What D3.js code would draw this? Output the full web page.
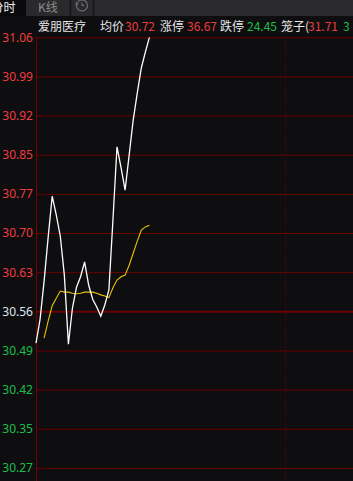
<!DOCTYPE html>
<html>
<head>
<meta charset="utf-8">
<script src="https://cdn.jsdelivr.net/npm/d3@7"></script>
<style>
  html, body { margin: 0; padding: 0; background: #0e0e11; overflow: hidden; }
  svg { display: block; font-family: "Noto Sans CJK SC", "Noto Sans", sans-serif; }
</style>
</head>
<body>
<svg id="chart"></svg>
<script>
// minute prices (index = minutes from the open)
let prices = [30.502, 30.545, 30.615, 30.695, 30.770, 30.736, 30.697, 30.626, 30.500, 30.566,
              30.604, 30.623, 30.650, 30.608, 30.582, 30.568, 30.551, 30.572, 30.599, 30.727,
              30.860, 30.822, 30.781, 30.845, 30.909, 30.958, 31.004, 31.033, 31.060];
// average price line, starts two minutes later
let avgPrices = [null, null, 30.511, 30.542, 30.570, 30.584, 30.597, 30.595, 30.595, 30.593,
                 30.592, 30.593, 30.595, 30.595, 30.595, 30.593, 30.590, 30.588, 30.585, 30.603,
                 30.617, 30.623, 30.626, 30.644, 30.666, 30.688, 30.708, 30.714, 30.717];

let prevClose = 30.56;
let tickLabels = ["31.06", "30.99", "30.92", "30.85", "30.77", "30.70", "30.63",
                  "30.56", "30.49", "30.42", "30.35", "30.27"];

// header quotes
let headerItems = [
    {text: "爱朋医疗", color: "#e6e6e6", x: 38},
    {text: "均价", color: "#e6e6e6", x: 100},
    {text: "30.72", color: "#f03c3c", x: 125},
    {text: "涨停", color: "#e6e6e6", x: 160},
    {text: "36.67", color: "#f03c3c", x: 187},
    {text: "跌停", color: "#e6e6e6", x: 220},
    {text: "24.45", color: "#1dbf4a", x: 247},
    {text: "笼子(", color: "#e6e6e6", x: 281},
    {text: "31.71", color: "#f03c3c", x: 308},
    {text: "3", color: "#1dbf4a", x: 343}
];

let width = 353;
let height = 481;
let chartLeft = 36;
let chartTop = 37.3;
let step = 4.05;       // px per minute
let pxPerYuan = 548;

let svg = d3.select("#chart").attr("width", width).attr("height", height);

let xScale = d3.scaleLinear().domain([0, 240]).range([chartLeft, chartLeft + 240 * step]);
let yScale = d3.scaleLinear()
    .domain([prevClose - 0.5, prevClose + 0.5])
    .range([chartTop + pxPerYuan, chartTop]);

let tickValues = tickLabels.map((t, i) => prevClose + (7 - i) * 0.5 / 7);

svg.append("rect").attr("width", width).attr("height", height).attr("fill", "#0e0e11");

// top tab strip
svg.append("rect").attr("x", 26).attr("y", 0).attr("width", width - 26).attr("height", 16).attr("fill", "#2a2a2d");
svg.append("rect").attr("x", 0).attr("y", 0).attr("width", 26).attr("height", 16).attr("fill", "#0a0a0c");
[70, 93].forEach(x => {
    svg.append("line").attr("x1", x + 0.5).attr("x2", x + 0.5).attr("y1", 0).attr("y2", 16)
        .attr("stroke", "#151517").attr("stroke-width", 1.5);
});
svg.append("text").attr("x", 15.5).attr("y", 12).attr("text-anchor", "end")
    .attr("font-size", 12).attr("fill", "#f0f0f0").text("分时");
svg.append("text").attr("x", 38).attr("y", 12)
    .attr("font-size", 12).attr("fill", "#8c8c8c").text("K线");

// clock / history icon
let icon = svg.append("g").attr("transform", "translate(82,5.5)")
    .attr("fill", "none").attr("stroke", "#707070").attr("stroke-width", 1.1);
icon.append("path").attr("d", d3.arc()({innerRadius: 5.5, outerRadius: 5.5, startAngle: -1.0, endAngle: 4.9}));
icon.append("path").attr("d", "M0,-3 V0 H2.5");
icon.append("path").attr("d", "M-5.6,-3.6 l-0.4,2.6 l2.4,-0.6");

// header row
svg.selectAll(".hdr")
    .data(headerItems)
    .enter()
    .append("text")
    .attr("class", "hdr")
    .attr("x", d => d.x)
    .attr("y", 31)
    .attr("font-size", 12)
    .attr("fill", d => d.color)
    .text(d => d.text);

// horizontal grid
let grid = svg.append("g").attr("transform", "translate(" + chartLeft + ",0)")
    .call(d3.axisLeft(yScale).tickValues(tickValues).tickSize(-(width - chartLeft)).tickFormat(""));
grid.select(".domain").remove();
grid.selectAll(".tick line")
    .attr("stroke", "#6a0000")
    .attr("stroke-width", d => Math.abs(d - prevClose) < 1e-6 ? 2 : 1);

// vertical dotted time line
svg.append("line")
    .attr("x1", Math.round(xScale(61.5)) + 0.5).attr("x2", Math.round(xScale(61.5)) + 0.5)
    .attr("y1", chartTop).attr("y2", height)
    .attr("stroke", "#6a0000").attr("stroke-width", 1).attr("stroke-dasharray", "1,2");

// left border
svg.append("line").attr("x1", chartLeft + 0.5).attr("x2", chartLeft + 0.5).attr("y1", chartTop).attr("y2", height)
    .attr("stroke", "#7a0000").attr("stroke-width", 1);

// price labels
let yAxis = svg.append("g").attr("transform", "translate(" + chartLeft + ",0)")
    .call(d3.axisLeft(yScale).tickValues(tickValues).tickSize(0).tickPadding(3)
        .tickFormat((d, i) => tickLabels[i]));
yAxis.select(".domain").remove();
yAxis.selectAll("text")
    .attr("font-family", "'Noto Sans', sans-serif")
    .attr("font-size", 12)
    .attr("fill", d => Math.abs(d - prevClose) < 1e-6 ? "#dfe6f0" : (d > prevClose ? "#f03c3c" : "#1dbf4a"));

// lines
let priceLine = d3.line()
    .defined(d => d != null)
    .x((d, i) => xScale(i))
    .y(d => yScale(d));

svg.append("path")
    .datum(avgPrices)
    .attr("d", priceLine)
    .attr("fill", "none")
    .attr("stroke", "#e8c400")
    .attr("stroke-width", 1.1);

svg.append("path")
    .datum(prices)
    .attr("d", priceLine)
    .attr("fill", "none")
    .attr("stroke", "#ffffff")
    .attr("stroke-width", 1.3);
</script>
</body>
</html>
